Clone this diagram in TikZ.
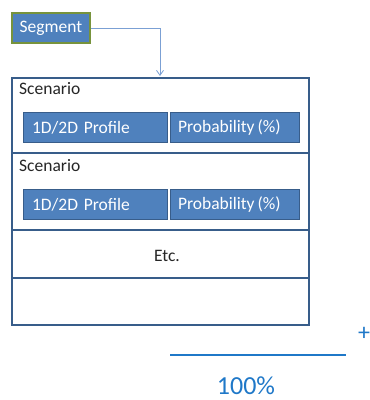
\documentclass[tikz,border=0pt]{standalone}
\usepackage{fontspec}
\setmainfont{Carlito}
\usetikzlibrary{arrows.meta}
\definecolor{boxblue}{HTML}{4F81BD}
\definecolor{edgeblue}{HTML}{385D8A}
\definecolor{segedge}{HTML}{77933C}
\definecolor{linkblue}{HTML}{7BA0D4}
\definecolor{sumblue}{HTML}{1F78C8}
\tikzset{
  rowbox/.style={draw=edgeblue, line width=1.6pt, fill=white, anchor=north west, inner sep=0pt},
  bluebox/.style={draw=edgeblue, line width=1pt, fill=boxblue, text=white, anchor=north west,
    inner sep=0pt, font=\fontsize{17.5}{20}\selectfont},
  lbl/.style={anchor=west, inner sep=0pt, font=\fontsize{17.5}{20}\selectfont, text=black!85},
}
\begin{document}
\begin{tikzpicture}[x=1pt,y=-1pt]
\useasboundingbox (0,0) rectangle (370,400);
% rows
\node[rowbox, minimum width=297pt, minimum height=75pt] (r1) at (11,77) {};
\node[rowbox, minimum width=297pt, minimum height=77pt] (r2) at (11,152) {};
\node[rowbox, minimum width=297pt, minimum height=48pt] (r3) at (11,229) {};
\node[rowbox, minimum width=297pt, minimum height=47pt] (r4) at (11,277) {};
% labels
\node[lbl] (s1) at (19,89) {Scenario};
\node[lbl] (s2) at (19,166) {Scenario};
\node[lbl, anchor=center] (etc) at (167,256) {Etc.};
% inner boxes
\node[bluebox, minimum width=144pt, minimum height=30pt, text width=127pt, align=left] (p1) at (23,112) {1D/2D Profile};
\node[bluebox, minimum width=129pt, minimum height=30pt, text width=114pt, align=left] (q1) at (170,112) {Probability\,(\%)};
\node[bluebox, minimum width=144pt, minimum height=30pt, text width=127pt, align=left] (p2) at (23,189) {1D/2D Profile};
\node[bluebox, minimum width=129pt, minimum height=30pt, text width=114pt, align=left] (q2) at (170,189) {Probability\,(\%)};
% segment
\node[draw=segedge, line width=1.8pt, fill=boxblue, text=white, anchor=north west, inner sep=0pt,
  minimum width=78pt, minimum height=30pt, font=\fontsize{17.5}{20}\selectfont] (seg) at (11,12) {Segment};
\coordinate (tgt) at (160,76);
\draw[linkblue, line width=0.8pt, -{Straight Barb[length=5pt,width=7pt]}] (seg.east) -| (tgt);
% sum
\node[text=sumblue, font=\fontsize{24}{26}\selectfont, inner sep=0pt] (plus) at (364,334) {+};
\coordinate (la) at (170,355);
\coordinate (lb) at (346,355);
\draw[sumblue, line width=1.5pt] (la) -- (lb);
\node[text=sumblue, font=\fontsize{26}{30}\selectfont, inner sep=0pt, anchor=base] (pct) at (246,394) {100\%};
\end{tikzpicture}
\end{document}
